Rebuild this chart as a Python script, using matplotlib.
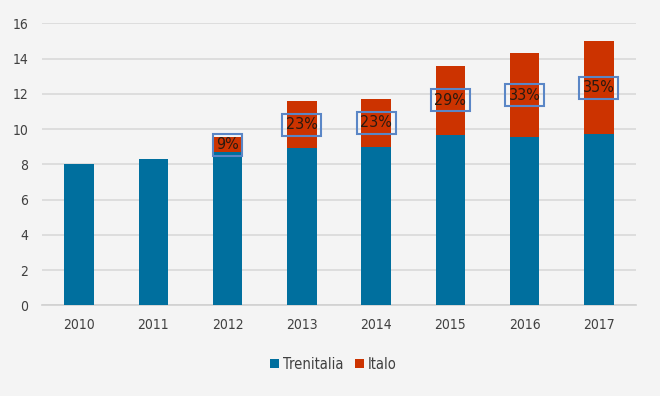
import numpy as np
import matplotlib
matplotlib.use('Agg')
import matplotlib.pyplot as plt

years = ['2010', '2011', '2012', '2013', '2014', '2015', '2016', '2017']
trenitalia = [8.0, 8.3, 8.7, 8.9, 9.0, 9.65, 9.55, 9.7]
italo = [0.0, 0.0, 0.85, 2.7, 2.7, 3.95, 4.75, 5.3]
share_labels = ['', '', '9%', '23%', '23%', '29%', '33%', '35%']

blue = '#006f9e'
red = '#cc3300'
bg = '#f4f4f4'

plt.rcParams['font.family'] = ['DejaVu Sans']
plt.rcParams['font.stretch'] = 'condensed'

fig = plt.figure(figsize=(6.6, 3.96), dpi=100, facecolor=bg)
ax = fig.add_axes([0.0636, 0.229, 0.9, 0.712])
ax.set_facecolor(bg)

x = np.arange(len(years))
ax.bar(x, trenitalia, width=0.4, color=blue, label='Trenitalia', zorder=3)
ax.bar(x, italo, width=0.4, bottom=trenitalia, color=red, label='Italo', zorder=3)

# percentage labels in the middle of the Italo segment
for i in range(len(years)):
    if share_labels[i] == '':
        continue
    ymid = trenitalia[i] + italo[i] / 2
    ax.text(x[i], ymid, share_labels[i], ha='center', va='center', fontsize=11.5,
            stretch='condensed', color='#2a1a10', zorder=5,
            bbox=dict(boxstyle='square,pad=0.22', facecolor='none',
                      edgecolor='#5a86c6', linewidth=1.5))

ax.set_xlim(-0.5, len(years) - 0.5)
ax.set_ylim(0, 16)
ax.set_yticks(np.arange(0, 17, 2))
ax.set_xticks(x)
ax.set_xticklabels(years)
ax.yaxis.grid(True, color='#d9d9d9', linewidth=1.2, zorder=0)
ax.set_axisbelow(True)
for s in ['top', 'right', 'left']:
    ax.spines[s].set_visible(False)
ax.spines['bottom'].set_color('#d0d0d0')
ax.spines['bottom'].set_linewidth(1.2)
ax.tick_params(axis='both', length=0, labelsize=10, colors='#404040')
ax.tick_params(axis='y', pad=10)
ax.tick_params(axis='x', pad=9)

leg = fig.legend(loc='center', bbox_to_anchor=(0.505, 0.08), ncol=2, frameon=False,
                 prop=dict(size=10.5, stretch='condensed'),
                 handlelength=0.6, handleheight=0.6,
                 handletextpad=0.25, columnspacing=0.8)
for t in leg.get_texts():
    t.set_color('#404040')

fig.savefig('out.png', dpi=100, facecolor=bg)
